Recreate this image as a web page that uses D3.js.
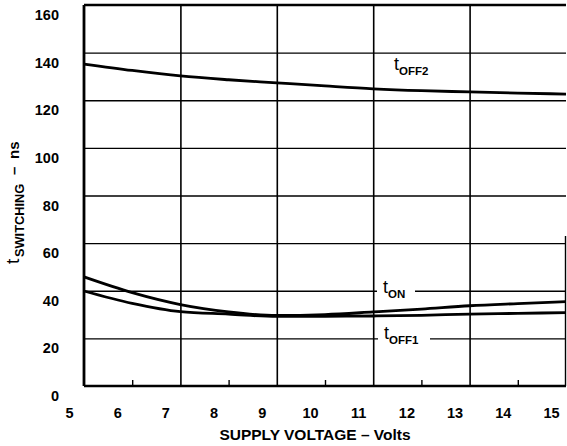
<!DOCTYPE html>
<html>
<head>
<meta charset="utf-8">
<script src="https://cdn.jsdelivr.net/npm/d3@7"></script>
<style>
  body { margin: 0; background: #fff; }
  text { font-family: "Liberation Sans", Arial, sans-serif; font-weight: bold; fill: #000; }
</style>
</head>
<body>
<div id="chart"></div>
<script>
// supply voltage (V)
const volts = [5, 6, 7, 8, 9, 10, 11, 12, 13, 14, 15];
// switching times (ns)
const tOff2 = [135.2, 132.5, 130.2, 128.6, 127.3, 126.0, 124.8, 124.0, 123.5, 123.0, 122.6];
const tOn   = [45.8, 39.2, 34.2, 31.1, 29.6, 30.0, 31.1, 32.3, 33.7, 34.6, 35.4];
const tOff1 = [39.9, 34.7, 31.2, 30.2, 29.2, 29.3, 29.4, 29.7, 30.2, 30.5, 30.8];
const xTickLabels = [5, 6, 7, 8, 9, 10, 11, 12, 13, 14, 15];
const yTickLabels = [0, 20, 40, 60, 80, 100, 120, 140, 160];

const W = 567, H = 446;
const m = {left: 84, right: 566, top: 5, bottom: 386};

const x = d3.scaleLinear().domain([5, 15]).range([m.left, m.right]);
const y = d3.scaleLinear().domain([0, 160]).range([m.bottom, m.top]);

const svg = d3.select("#chart").append("svg")
  .attr("width", W)
  .attr("height", H);

// vertical grid
svg.append("g")
  .attr("transform", `translate(0,${m.bottom})`)
  .call(d3.axisBottom(x).tickValues([7, 9, 11, 13]).tickSize(-(m.bottom - m.top)).tickFormat(""))
  .call(g => g.select(".domain").remove())
  .call(g => g.selectAll("line").attr("stroke", "#000").attr("stroke-width", 1.6));

// horizontal grid
svg.append("g")
  .attr("transform", `translate(${m.left},0)`)
  .call(d3.axisLeft(y).tickValues([20, 40, 60, 80, 100, 120, 140]).tickSize(-(m.right - m.left)).tickFormat(""))
  .call(g => g.select(".domain").remove())
  .call(g => g.selectAll("line").attr("stroke", "#000").attr("stroke-width", 1.4));

// minor ticks on bottom
svg.append("g")
  .attr("transform", `translate(0,${m.bottom})`)
  .call(d3.axisBottom(x).tickValues([6, 8, 10, 12, 14]).tickSize(-6).tickFormat(""))
  .call(g => g.select(".domain").remove())
  .call(g => g.selectAll("line").attr("stroke", "#000").attr("stroke-width", 1.4));

// frame
svg.append("line").attr("x1", m.left).attr("x2", m.right).attr("y1", m.top).attr("y2", m.top)
  .attr("stroke", "#000").attr("stroke-width", 2.5);
svg.append("line").attr("x1", m.left).attr("x2", m.right).attr("y1", m.bottom).attr("y2", m.bottom)
  .attr("stroke", "#000").attr("stroke-width", 2.5);
svg.append("line").attr("x1", m.left).attr("x2", m.left).attr("y1", m.top).attr("y2", m.bottom)
  .attr("stroke", "#000").attr("stroke-width", 2.8);
svg.append("line").attr("x1", m.right - 0.5).attr("x2", m.right - 0.5).attr("y1", y(63)).attr("y2", m.bottom)
  .attr("stroke", "#000").attr("stroke-width", 1.4);

// x tick labels (printed slightly left of the grid)
svg.append("g")
  .attr("transform", `translate(0,${m.bottom})`)
  .call(d3.axisBottom(x).tickValues(xTickLabels).tickSize(0).tickFormat(d3.format("d")))
  .call(g => g.select(".domain").remove())
  .call(g => g.selectAll("text")
    .attr("dy", null).attr("y", 32).attr("x", -15)
    .style("font-size", "14.5px").style("font-family", "Liberation Sans, Arial, sans-serif").style("font-weight", "bold"));

// y tick labels (printed slightly below the grid)
svg.append("g")
  .attr("transform", `translate(${m.left},0)`)
  .call(d3.axisLeft(y).tickValues(yTickLabels).tickSize(0).tickFormat(d3.format("d")))
  .call(g => g.select(".domain").remove())
  .call(g => g.selectAll("text")
    .attr("dy", null).attr("y", 14.5).attr("x", -25)
    .style("font-size", "14.5px").style("font-family", "Liberation Sans, Arial, sans-serif").style("font-weight", "bold"));

// curves
const line = d3.line()
  .x((d, i) => x(volts[i]))
  .y(d => y(d))
  .curve(d3.curveMonotoneX);

[tOff2, tOn, tOff1].forEach(s => {
  svg.append("path")
    .attr("d", line(s))
    .attr("fill", "none")
    .attr("stroke", "#000")
    .attr("stroke-width", 2.8);
});

// curve labels
function subLabel(px, py, main, sub, bg) {
  const g = svg.append("g");
  if (bg) {
    g.append("rect").attr("x", px - 6).attr("y", py - 14).attr("width", bg).attr("height", 22).attr("fill", "#fff");
  }
  const t = g.append("text").attr("x", px).attr("y", py).style("font-size", "18px").style("font-weight", "normal");
  t.append("tspan").text(main);
  t.append("tspan").attr("dy", 5).style("font-size", "11.5px").style("font-weight", "bold").text(sub);
}
subLabel(394, 70, "t", "OFF2", 0);
subLabel(383, 293, "t", "ON", 38);
subLabel(384, 339, "t", "OFF1", 52);

// axis titles
svg.append("text")
  .attr("x", 315).attr("y", 440)
  .attr("text-anchor", "middle")
  .style("font-size", "15.5px")
  .text("SUPPLY VOLTAGE – Volts");

const yt = svg.append("text")
  .attr("transform", "translate(19,264) rotate(-90)");
yt.append("tspan").attr("x", 0).attr("y", 0).style("font-size", "19px").style("font-weight", "normal").text("t");
yt.append("tspan").attr("x", 7).attr("y", 5).style("font-size", "12.8px").text("SWITCHING");
yt.append("tspan").attr("x", 89).attr("y", 0).style("font-size", "15px").text("–");
yt.append("tspan").attr("x", 105).attr("y", 0).style("font-size", "15px").text("ns");
</script>
</body>
</html>
